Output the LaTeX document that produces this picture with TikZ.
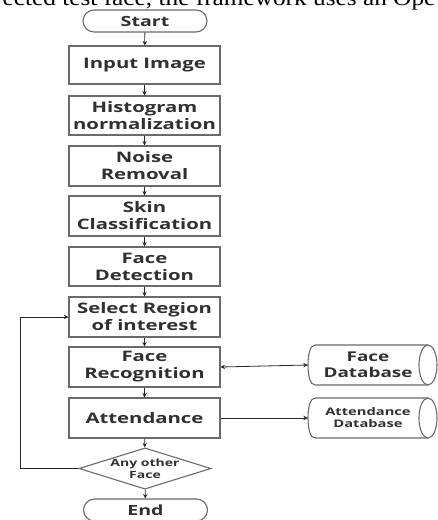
\documentclass[tikz,border=0pt]{standalone}
\usepackage{fontspec}
\setmainfont{Open Sans}[FakeStretch=1.4]
\newfontfamily\bodyserif{Liberation Serif}[FakeStretch=1.15]
\usetikzlibrary{arrows.meta,shapes.geometric,shapes.misc}
\definecolor{boxline}{HTML}{6A6A6A}
\definecolor{txt}{HTML}{303030}
\tikzset{
  flowbox/.style={draw=boxline, line width=1.1pt, fill=white, minimum width=151pt,
    text=txt, align=center, font=\bfseries\fontsize{14.5}{17}\selectfont, inner sep=0pt},
  term/.style={draw=boxline, line width=1.1pt, rounded rectangle, minimum width=124pt,
    minimum height=22pt, text=txt, font=\bfseries\fontsize{14}{15}\selectfont, inner sep=0pt},
  decide/.style={draw=boxline, line width=1.1pt, diamond, aspect=3.2, minimum width=120pt,
    minimum height=37pt, inner sep=0pt, text=txt, align=center,
    font=\bfseries\fontsize{10}{12}\selectfont},
  dbtext/.style={minimum width=130pt, minimum height=40pt, inner sep=0pt, text=txt, align=center},
  dbline/.style={draw=boxline, line width=1.1pt},
  arr/.style={draw=black!85, line width=0.8pt, -{Stealth[length=4.5pt,width=4.5pt]}},
  arrb/.style={draw=black!85, line width=0.8pt, {Stealth[length=4.5pt,width=4.5pt]}-{Stealth[length=4.5pt,width=4.5pt]}}
}
\begin{document}
\begin{tikzpicture}[x=1pt,y=-1pt]
\useasboundingbox (0,0) rectangle (438,520);
% cut-off body text line at the top
\node[anchor=base, inner sep=0pt, font=\bodyserif\fontsize{22}{22}\selectfont, text=black] (toptext) at (219,5) {ected test face, the framework uses an Ope};

\node[term] (start) at (145,21) {Start};
\node[flowbox, minimum height=38pt] (inimg) at (144.5,65) {Input Image};
\node[flowbox, minimum height=39pt] (hist) at (144.5,115.5) {Histogram\\normalization};
\node[flowbox, minimum height=40pt] (noise) at (144.5,166) {Noise\\Removal};
\node[flowbox, minimum height=40pt] (skin) at (144.5,216) {Skin\\Classification};
\node[flowbox, minimum height=39pt] (fdet) at (144.5,266.5) {Face\\Detection};
\node[flowbox, minimum height=40pt] (roi) at (144.5,317) {Select Region\\of interest};
\node[flowbox, minimum height=40pt] (frec) at (144.5,367) {Face\\Recognition};
\node[flowbox, minimum height=40pt] (att) at (144.5,418) {Attendance};
\node[decide] (dec) at (145,468.5) {Any other\\Face};
\node[term] (stop) at (145.5,510) {End};

% databases
\draw[dbline] (315,345) -- (428,345) (315,385) -- (428,385)
  (315,345) .. controls (310,345) and (308,355) .. (308,365) .. controls (308,375) and (310,385) .. (315,385);
\draw[dbline] (428,365) ellipse [x radius=9, y radius=20];
\node[dbtext, font=\bfseries\fontsize{13.5}{16}\selectfont] (fdb) at (373,365) {\hspace*{-10pt}Face\\\hspace*{-10pt}Database};

\draw[dbline] (315,398) -- (428,398) (315,438) -- (428,438)
  (315,398) .. controls (310,398) and (308,408) .. (308,418) .. controls (308,428) and (310,438) .. (315,438);
\draw[dbline] (428,418) ellipse [x radius=9, y radius=20];
\node[dbtext, font=\bfseries\fontsize{10.5}{12}\selectfont] (adb) at (373,418) {\hspace*{-10pt}Attendance\\\hspace*{-10pt}Database};

% connectors
\draw[arr] (start) -- (inimg);
\draw[arr] (inimg) -- (hist);
\draw[arr] (hist) -- (noise);
\draw[arr] (noise) -- (skin);
\draw[arr] (skin) -- (fdet);
\draw[arr] (fdet) -- (roi);
\draw[arr] (roi) -- (frec);
\draw[arr] (frec) -- (att);
\draw[arr] (att) -- (dec);
\draw[arr] (dec) -- (stop);
\draw[arr] (dec.west) -- (20,468.5) |- (roi.west);
\draw[arrb] (frec.east) -- (fdb.west);
\draw[arr] (att.east) -- (adb.west);
\end{tikzpicture}
\end{document}
